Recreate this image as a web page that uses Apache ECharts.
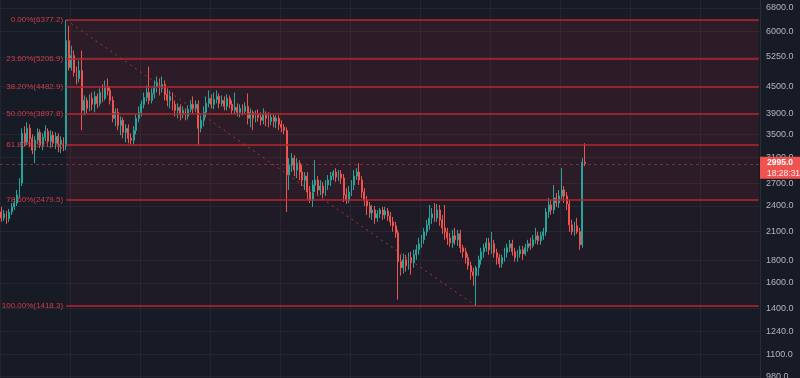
<!DOCTYPE html>
<html>
<head>
<meta charset="utf-8">
<script src="https://cdn.jsdelivr.net/npm/echarts@6/dist/echarts.min.js"></script>
<style>
html, body { margin: 0; padding: 0; background: #171b26; }
#chart { width: 800px; height: 378px; }
</style>
</head>
<body>
<div id="chart"></div>
<script>
// each candle: [open, close, low, high]
const candles = [
  [2325, 2253, 2207, 2387], [2253, 2301, 2218, 2349], [2301, 2242, 2184, 2337], [2242, 2325, 2207, 2362], [2325, 2387, 2289, 2437],
  [2387, 2437, 2349, 2502], [2437, 2541, 2399, 2609], [2541, 2706, 2502, 2778], [2706, 3515, 2664, 3609], [3515, 3354, 3285, 3647],
  [3354, 3609, 3302, 3724], [3609, 3425, 3268, 3685], [3425, 3216, 3150, 3497], [3216, 3389, 3004, 3461], [3389, 3534, 3319, 3609],
  [3534, 3302, 3251, 3590], [3302, 3443, 3216, 3515], [3443, 3552, 3371, 3666], [3552, 3371, 3285, 3609], [3371, 3479, 3251, 3571],
  [3479, 3336, 3268, 3552], [3336, 3461, 3234, 3534], [3461, 3319, 3183, 3515], [3319, 3389, 3166, 3461], [3389, 3285, 3199, 3443],
  [3285, 5721, 3216, 6377.2], [5721, 4967, 4890, 6189], [4967, 5290, 4890, 5573], [5290, 4839, 4738, 5431], [4839, 4689, 4544, 4993],
  [4689, 4890, 4592, 5152], [4890, 3966, 3571, 5431], [3966, 4179, 3863, 4290], [4179, 4008, 3904, 4245], [4008, 4223, 3945, 4313],
  [4223, 4093, 3966, 4358], [4093, 4268, 3925, 4381], [4268, 4114, 4008, 4336], [4114, 4358, 4050, 4451], [4358, 4223, 4136, 4544],
  [4223, 4497, 4179, 4640], [4497, 4404, 4290, 4689], [4404, 4179, 4093, 4497], [4179, 3803, 3724, 4268], [3803, 3925, 3647, 4008],
  [3925, 3666, 3571, 4008], [3666, 3763, 3479, 3843], [3763, 3534, 3425, 3823], [3534, 3609, 3354, 3685], [3609, 3425, 3336, 3685],
  [3425, 3389, 3302, 3515], [3389, 3571, 3319, 3647], [3571, 3803, 3497, 3884], [3803, 3925, 3724, 4050], [3925, 4093, 3843, 4179],
  [4093, 4245, 4008, 4358], [4245, 4358, 4157, 4521], [4358, 4179, 4093, 4993], [4179, 4336, 4114, 4451], [4336, 4497, 4223, 4640],
  [4497, 4592, 4358, 4738], [4592, 4451, 4290, 4689], [4451, 4544, 4358, 4738], [4544, 4313, 4179, 4640], [4313, 4179, 4050, 4451],
  [4179, 4268, 4008, 4404], [4268, 4093, 3966, 4358], [4093, 3966, 3843, 4179], [3966, 4029, 3803, 4114], [4029, 3884, 3763, 4093],
  [3884, 3966, 3803, 4050], [3966, 3843, 3763, 4008], [3843, 3987, 3783, 4071], [3987, 4093, 3925, 4179], [4093, 4008, 3904, 4268],
  [4008, 4093, 3925, 4179], [4093, 3609, 3302, 4179], [3609, 3763, 3534, 3863], [3763, 3925, 3647, 4050], [3925, 4114, 3823, 4268],
  [4114, 4223, 4029, 4404], [4223, 4093, 4008, 4313], [4093, 4201, 3987, 4358], [4201, 4268, 4114, 4404], [4268, 4114, 4008, 4336],
  [4114, 4179, 4050, 4290], [4179, 4050, 3966, 4268], [4050, 4223, 3966, 4313], [4223, 4093, 4008, 4290], [4093, 3966, 3884, 4179],
  [3966, 4029, 3884, 4358], [4029, 3925, 3843, 4114], [3925, 4008, 3823, 4093], [4008, 3945, 3863, 4093], [3945, 4050, 3904, 4136],
  [4050, 3803, 3685, 4336], [3803, 3925, 3628, 4008], [3925, 3803, 3571, 3966], [3803, 3884, 3724, 3966], [3884, 3823, 3743, 3987],
  [3823, 3763, 3666, 3925], [3763, 3884, 3685, 4008], [3884, 3803, 3647, 3945], [3803, 3743, 3628, 3925], [3743, 3823, 3666, 3904],
  [3823, 3743, 3628, 3884], [3743, 3803, 3609, 3863], [3803, 3685, 3571, 3863], [3685, 3628, 3534, 3763], [3628, 3571, 3497, 3685],
  [3571, 2822, 2325, 3628], [2822, 2973, 2609, 3084], [2973, 3084, 2867, 3166], [3084, 2897, 2807, 3133], [2897, 3004, 2778, 3084],
  [3004, 2867, 2749, 3052], [2867, 2749, 2664, 2973], [2749, 2807, 2609, 2867], [2807, 2582, 2475, 2867], [2582, 2475, 2437, 2664],
  [2475, 2678, 2387, 2749], [2678, 2749, 2582, 3052], [2749, 2609, 2528, 2807], [2609, 2664, 2541, 2749], [2664, 2568, 2502, 2720],
  [2568, 2678, 2528, 2749], [2678, 2749, 2609, 2822], [2749, 2807, 2664, 2867], [2807, 2867, 2749, 2897], [2867, 2793, 2720, 2927],
  [2793, 2837, 2735, 2897], [2837, 2778, 2692, 2897], [2778, 2541, 2450, 2837], [2541, 2475, 2424, 2636], [2475, 2582, 2437, 2664],
  [2582, 2678, 2528, 2749], [2678, 2807, 2609, 2897], [2807, 2867, 2749, 2927], [2867, 2749, 2678, 3004], [2749, 2582, 2502, 2807],
  [2582, 2475, 2399, 2636], [2475, 2399, 2289, 2528], [2399, 2313, 2253, 2450], [2313, 2349, 2230, 2412], [2349, 2253, 2184, 2399],
  [2253, 2301, 2207, 2349], [2301, 2349, 2253, 2374], [2349, 2289, 2230, 2387], [2289, 2337, 2242, 2387], [2337, 2277, 2218, 2374],
  [2277, 2207, 2161, 2325], [2207, 2161, 2094, 2265], [2161, 2083, 2029, 2207], [2083, 1790, 1466, 2116], [1790, 1734, 1663, 1856],
  [1734, 1808, 1681, 1866], [1808, 1752, 1698, 1856], [1752, 1828, 1716, 1876], [1828, 1780, 1672, 1886], [1780, 1856, 1734, 1905],
  [1856, 1905, 1808, 1956], [1905, 1967, 1856, 2029], [1967, 2008, 1926, 2061], [2008, 2094, 1967, 2138], [2094, 2172, 2051, 2230],
  [2172, 2253, 2116, 2412], [2253, 2301, 2184, 2374], [2301, 2253, 2207, 2437], [2253, 2349, 2207, 2424], [2349, 2230, 2161, 2412],
  [2230, 2138, 2072, 2289], [2138, 2094, 2008, 2412], [2094, 2029, 1956, 2138], [2029, 1977, 1936, 2083], [1977, 2051, 1926, 2116],
  [2051, 2008, 1956, 2138], [2008, 2072, 1946, 2116], [2072, 1926, 1876, 2116], [1926, 1886, 1828, 1956], [1886, 1828, 1771, 1926],
  [1828, 1752, 1716, 1866], [1752, 1698, 1628, 1790], [1698, 1663, 1578, 1734], [1663, 1734, 1418.3, 1752], [1734, 1808, 1663, 1847],
  [1808, 1886, 1762, 1926], [1886, 1926, 1828, 1967], [1926, 1977, 1886, 2029], [1977, 1905, 1856, 2029], [1905, 1967, 1866, 2094],
  [1967, 1876, 1828, 2008], [1876, 1828, 1762, 1916], [1828, 1771, 1734, 1866], [1771, 1828, 1734, 1856], [1828, 1876, 1790, 1926],
  [1876, 1926, 1828, 1967], [1926, 1967, 1886, 2008], [1967, 1886, 1847, 2008], [1886, 1828, 1790, 1926], [1828, 1866, 1790, 1905],
  [1866, 1905, 1828, 1946], [1905, 1866, 1808, 1946], [1866, 1926, 1847, 1967], [1926, 1967, 1886, 2008], [1967, 1946, 1905, 2029],
  [1946, 2008, 1926, 2061], [2008, 2051, 1967, 2138], [2051, 1998, 1956, 2094], [1998, 2051, 1956, 2094], [2051, 2094, 2008, 2138],
  [2094, 2325, 2051, 2374], [2325, 2412, 2253, 2502], [2412, 2349, 2289, 2475], [2349, 2502, 2301, 2678], [2502, 2437, 2387, 2568],
  [2437, 2528, 2374, 2609], [2528, 2609, 2475, 2927], [2609, 2528, 2437, 2664], [2528, 2424, 2349, 2582], [2424, 2172, 2094, 2475],
  [2172, 2094, 2061, 2230], [2094, 2161, 2051, 2207], [2161, 2094, 2072, 2253], [2094, 1956, 1905, 2138], [1956, 3020, 1926, 3084],
  [3020, 2995, 2958, 3336]
];

const priceTicks = [980, 1100, 1240, 1400, 1600, 1800, 2100, 2400, 2700, 3100, 3500, 3900, 4500, 5250, 6000, 6800];
const fibPercents = ['0.00%', '23.60%', '38.20%', '50.00%', '61.80%', '78.60%', '100.00%'];
const fibLevels = [6377.2, 5206.9, 4482.9, 3897.8, 3312.6, 2479.5, 1418.3];
const fibStart = 25;      // candle of the swing high
const swingLowAt = 183;   // candle of the swing low
const lastPrice = 2995.0;
const lastTime = '18:28:31';
const slotCount = 293;    // candles + empty space on the right

const slots = [];
for (let i = 0; i < slotCount; i++) slots.push(String(i));
const lastSlot = String(slotCount - 1);

const font = 'Liberation Sans, Arial, sans-serif';
const fibRed = '#b8262f';
const bandAlpha = [0.12, 0.12, 0.12, 0.12, 0.12, 0.045];

const fibAreas = [];
for (let i = 0; i < fibLevels.length - 1; i++) {
  fibAreas.push([
    { xAxis: String(fibStart), yAxis: fibLevels[i], itemStyle: { color: 'rgba(190,40,60,' + bandAlpha[i] + ')' } },
    { xAxis: lastSlot, yAxis: fibLevels[i + 1] }
  ]);
}
const fibLines = fibLevels.map((lv, i) => [
  { name: fibPercents[i] + '(' + lv.toFixed(1) + ')', coord: [String(fibStart), lv] },
  { coord: [lastSlot, lv] }
]);

const chart = echarts.init(document.getElementById('chart'));
chart.setOption({
  backgroundColor: '#171b26',
  animation: false,
  grid: { left: 0, right: 40, top: 0, bottom: 0, outerBoundsMode: 'none', containLabel: false },
  xAxis: {
    type: 'category',
    data: slots,
    boundaryGap: true,
    axisLine: { show: false },
    axisTick: { show: false },
    axisLabel: { show: false },
    splitLine: { show: true, interval: 26, lineStyle: { color: '#232631', width: 1 } }
  },
  yAxis: {
    type: 'log',
    position: 'right',
    min: 971,
    max: 7085,
    axisLine: { show: true, lineStyle: { color: '#2a2e39' } },
    axisTick: { show: false, customValues: priceTicks },
    axisLabel: {
      customValues: priceTicks,
      color: '#b2b5be',
      fontSize: 9,
      fontFamily: font,
      margin: 6,
      formatter: v => Number(v).toFixed(1)
    },
    splitLine: { show: true, lineStyle: { color: '#232631', width: 1 } }
  },
  series: [
    {
      type: 'candlestick',
      data: candles,
      barWidth: 1.4,
      z: 2,
      itemStyle: {
        color: '#26a69a',
        color0: '#ef5350',
        borderColor: '#26a69a',
        borderColor0: '#ef5350',
        borderWidth: 1
      }
    },
    {
      type: 'line',
      data: [],
      z: 4,
      silent: true,
      markArea: { silent: true, itemStyle: { borderWidth: 0 }, label: { show: false }, data: fibAreas }
    },
    {
      type: 'line',
      data: [],
      z: 6,
      silent: true,
      markLine: {
        silent: true,
        symbol: 'none',
        lineStyle: { color: fibRed, width: 1.5, type: 'solid', opacity: 1 },
        label: {
          show: true,
          position: 'start',
          distance: 3,
          formatter: '{b}',
          color: '#d23c46',
          fontSize: 8,
          fontFamily: font
        },
        emphasis: { disabled: true },
        data: fibLines.concat([
          [
            { coord: [String(fibStart), fibLevels[0]], label: { show: false }, lineStyle: { type: [2, 4], color: '#b2323c', width: 1 } },
            { coord: [String(swingLowAt), fibLevels[fibLevels.length - 1]] }
          ],
          {
            yAxis: lastPrice,
            lineStyle: { type: [3, 3], color: 'rgba(239,83,80,0.4)', width: 1 },
            label: {
              show: true,
              position: 'end',
              distance: 0,
              offset: [0, 4],
              formatter: '{p|' + lastPrice.toFixed(1) + '}\n{t|' + lastTime + '}',
              backgroundColor: '#ef5350',
              padding: [0, 3, 0, 7],
              rich: {
                p: { color: '#ffffff', fontSize: 8.5, fontWeight: 'bold', lineHeight: 11, fontFamily: font },
                t: { color: '#fde8e8', fontSize: 8.5, lineHeight: 11, fontFamily: font }
              }
            }
          }
        ])
      }
    }
  ]
});
</script>
</body>
</html>
